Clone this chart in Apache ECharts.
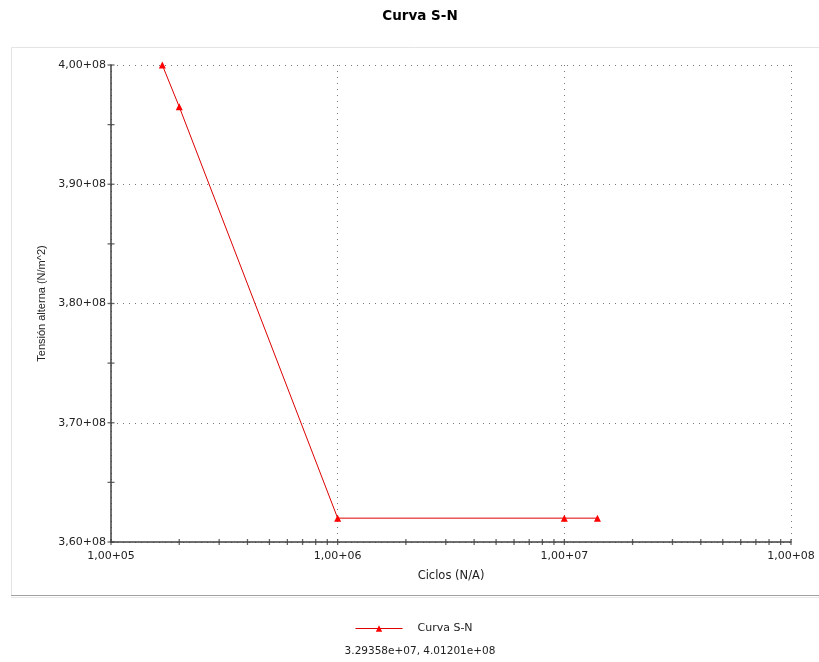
<!DOCTYPE html>
<html>
<head>
<meta charset="utf-8">
<script src="https://cdn.jsdelivr.net/npm/echarts@6/dist/echarts.min.js"></script>
<style>html,body{margin:0;padding:0;background:#fff}#c{width:819px;height:662px}</style>
</head>
<body>
<div id="c"></div>
<script>
const titleText = 'Curva S-N';
const seriesName = 'Curva S-N';
const xName = 'Ciclos (N/A)';
const yName = 'Tensión alterna (N/m^2)';
const cursorText = '3.29358e+07, 4.01201e+08';
const cycles = [1.684e5, 2.0e5, 1.0e6, 1.0e7, 1.4e7];
const stress = [4.00e8, 3.965e8, 3.62e8, 3.62e8, 3.62e8];
const xMin = 1e5, xMax = 1e8;
const yMin = 3.6e8, yMax = 4.0e8, yStep = 1e7;

function sciFmt(v) {
  const e = Math.floor(Math.log10(v) + 1e-9);
  const m = v / Math.pow(10, e);
  return m.toFixed(2).replace('.', ',') + '+' + String(e).padStart(2, '0');
}

// x tick positions (log: 1..9 x each decade)
const xTicks = [];
for (let d = Math.log10(xMin); d < Math.log10(xMax); d++) {
  for (let k = 1; k <= 9; k++) xTicks.push([k * Math.pow(10, d), yMin]);
}
xTicks.push([xMax, yMin]);
// y tick positions (major + half-step minor)
const yTicks = [];
for (let i = 0; i <= (yMax - yMin) / (yStep / 2) + 1e-9; i++) yTicks.push([xMin, yMin + i * yStep / 2]);

const font = '"Liberation Sans", Arial, sans-serif';
const wfont = '"DejaVu Sans", Verdana, sans-serif';
const chart = echarts.init(document.getElementById('c'), null, {renderer: 'canvas'});
chart.setOption({
  animation: false,
  backgroundColor: '#fff',
  graphic: [
    {type: 'rect', z: -10, shape: {x: 11.5, y: 47.5, width: 820, height: 548}, style: {fill: 'none', stroke: '#e4e4e4', lineWidth: 1}},
    {type: 'line', z: -9, shape: {x1: 11, y1: 595.5, x2: 819, y2: 595.5}, style: {stroke: '#a0a0a0', lineWidth: 1}},
    {type: 'line', z: -9, shape: {x1: 11, y1: 597.5, x2: 819, y2: 597.5}, style: {stroke: '#e8e8e8', lineWidth: 1}},
    {type: 'text', x: 420, y: 16.5, style: {text: titleText, font: 'bold 13.5px ' + wfont, fill: '#000', align: 'center', verticalAlign: 'middle'}},
    {type: 'text', x: 420, y: 651, style: {text: cursorText, font: '10.5px ' + wfont, fill: '#222', align: 'center', verticalAlign: 'middle'}}
  ],
  legend: {
    data: [seriesName], left: 350, top: 618, itemWidth: 47, itemHeight: 8, itemGap: 10,
    lineStyle: {width: 1},
    textStyle: {fontFamily: wfont, fontSize: 11, color: '#222', padding: [0, 0, 0, 10]}
  },
  grid: {left: 111, right: 28, top: 65, bottom: 120, containLabel: false},
  xAxis: {
    type: 'log', logBase: 10, min: xMin, max: xMax,
    name: xName, nameLocation: 'middle', nameGap: 28,
    nameTextStyle: {fontFamily: wfont, fontSize: 11.5, color: '#222'},
    axisLine: {lineStyle: {color: '#404040', width: 1.5}},
    axisTick: {show: false},
    axisLabel: {formatter: sciFmt, fontFamily: wfont, fontSize: 11, color: '#222', margin: 9},
    splitLine: {show: true, lineStyle: {type: [1, 5], color: '#777', width: 1}},
    minorTick: {show: false}
  },
  yAxis: {
    type: 'value', min: yMin, max: yMax, interval: yStep,
    name: yName, nameLocation: 'middle', nameGap: 64,
    nameTextStyle: {fontFamily: font, fontSize: 11, color: '#222'},
    axisLine: {show: true, lineStyle: {color: '#404040', width: 1.5}},
    axisTick: {show: false},
    minorTick: {show: false},
    axisLabel: {formatter: sciFmt, fontFamily: wfont, fontSize: 11, color: '#222', margin: 5},
    splitLine: {show: true, lineStyle: {type: [1, 5], color: '#777', width: 1}}
  },
  series: [
    {
      name: seriesName, type: 'line', data: cycles.map((c, i) => [c, stress[i]]),
      symbol: 'triangle', symbolSize: 7, showSymbol: true,
      lineStyle: {color: '#dd0000', width: 1},
      itemStyle: {color: '#ff0000'},
      z: 5
    },
    {
      name: 'xticks', type: 'scatter', data: xTicks, symbol: 'rect', symbolSize: [1.3, 6],
      itemStyle: {color: '#404040'}, silent: true, clip: false, z: 4
    },
    {
      name: 'yticks', type: 'scatter', data: yTicks, symbol: 'rect', symbolSize: [7, 1.3],
      itemStyle: {color: '#404040'}, silent: true, clip: false, z: 4
    }
  ]
});
</script>
</body>
</html>
